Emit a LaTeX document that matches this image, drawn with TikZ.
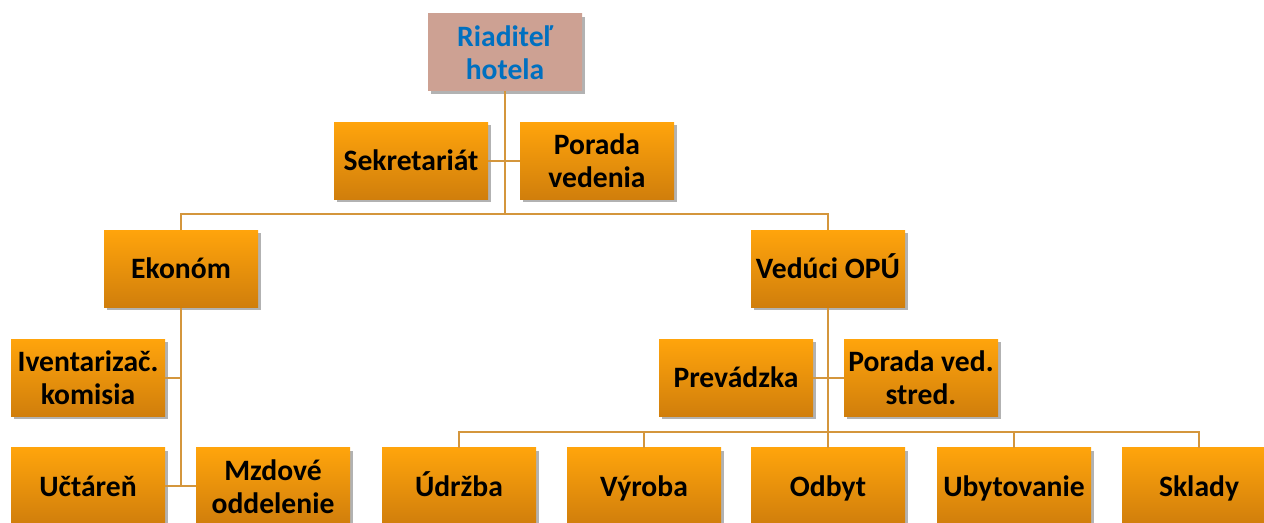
\documentclass[tikz,border=0pt]{standalone}
\usepackage{fontspec}
\setmainfont{Carlito}
\usetikzlibrary{shadows}
\definecolor{boxtop}{HTML}{FFA40C}
\definecolor{boxbot}{HTML}{D07E0C}
\definecolor{linec}{HTML}{D4963C}
\definecolor{dirfill}{HTML}{CDA193}
\definecolor{dirtext}{HTML}{0070C0}
\tikzset{
  unit/.style={rectangle, minimum width=77pt, minimum height=38.5pt, inner sep=1pt,
    align=center, font=\fontsize{14.8}{16.5}\selectfont\bfseries,
    top color=boxtop, bottom color=boxbot,
    drop shadow={shadow xshift=1.5pt, shadow yshift=-1.5pt, opacity=0.3, fill=black}},
  oneline/.style={text height=11.5pt, text depth=2pt},
  director/.style={unit, top color=dirfill, bottom color=dirfill, text=dirtext},
  conn/.style={draw=linec, line width=1pt}
}
\begin{document}
\begin{tikzpicture}[x=0.5pt, y=-0.5pt]
\useasboundingbox (0,0) rectangle (1264,523);
\node[director] (dir) at (505,52.5) {Riaditeľ\\hotela};
\node[unit,oneline] (sek) at (411,161) {Sekretariát};
\node[unit] (por) at (597,161) {Porada\\vedenia};
\node[unit,oneline] (eko) at (181,269) {Ekonóm};
\node[unit,oneline] (ved) at (828,269) {Vedúci OPÚ};
\node[unit] (inv) at (88,378) {Iventarizač.\\komisia};
\node[unit,oneline] (uct) at (88,486.5) {Učtáreň};
\node[unit] (mzd) at (273,486.5) {Mzdové\\oddelenie};
\node[unit,oneline] (pre) at (736,378) {Prevádzka};
\node[unit] (pvs) at (921,378) {Porada ved.\\stred.};
\node[unit,oneline] (udr) at (459,486.5) {Údržba};
\node[unit,oneline] (vyr) at (644,486.5) {Výroba};
\node[unit,oneline] (odb) at (828,486.5) {Odbyt};
\node[unit,oneline] (uby) at (1014,486.5) {Ubytovanie};
\node[unit,oneline] (skl) at (1199,486.5) {Sklady};
\coordinate (j1) at (505,214);
\coordinate (j2) at (828,432);
\draw[conn] (dir.south) -- (j1);
\draw[conn] (sek.east) -- (por.west);
\draw[conn] (eko.north) |- (j1) -| (ved.north);
\draw[conn] (eko.south) -- (eko.south |- uct.east);
\draw[conn] (inv.east) -- (inv.east -| eko.south);
\draw[conn] (uct.east) -- (mzd.west);
\draw[conn] (ved.south) -- (odb.north);
\draw[conn] (pre.east) -- (pvs.west);
\draw[conn] (udr.north) |- (j2) -| (skl.north);
\draw[conn] (vyr.north) |- (j2);
\draw[conn] (uby.north) |- (j2);
\end{tikzpicture}
\end{document}
